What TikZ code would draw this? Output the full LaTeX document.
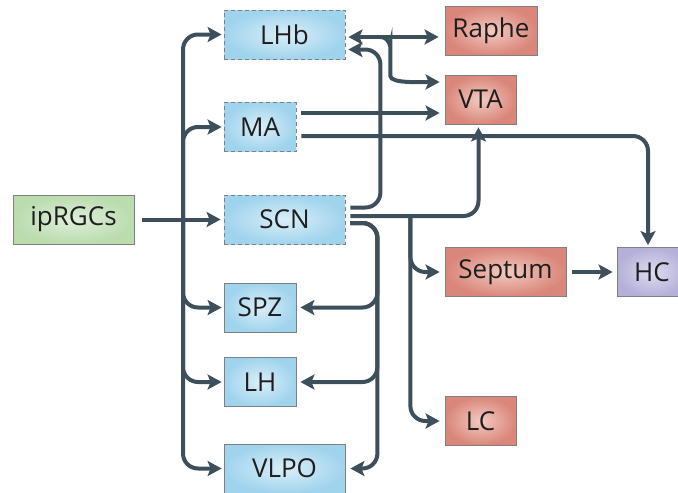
\documentclass[tikz,border=0pt]{standalone}
\usepackage{fontspec}
\setmainfont{Open Sans}
\usetikzlibrary{arrows.meta}

\definecolor{linecol}{RGB}{61,79,90}
\definecolor{edgecol}{RGB}{128,128,128}
\definecolor{textcol}{RGB}{30,30,30}
\definecolor{blueout}{RGB}{160,212,237}
\definecolor{bluein}{RGB}{218,238,248}
\definecolor{redout}{RGB}{218,134,122}
\definecolor{redin}{RGB}{242,202,192}
\definecolor{greenout}{RGB}{186,220,174}
\definecolor{greenin}{RGB}{224,239,218}
\definecolor{purpleout}{RGB}{181,176,216}
\definecolor{purplein}{RGB}{222,220,240}

\tikzset{
  box/.style = {draw = edgecol, line width = 0.8pt, minimum height = 49pt, inner sep = 0pt,
    text = textcol, font = \fontsize{26}{26}\selectfont},
  hubbox/.style = {box, inner color = bluein, outer color = blueout},
  dashbox/.style = {hubbox, dashed, dash pattern = on 4pt off 3pt},
  inputbox/.style = {box, inner color = greenin, outer color = greenout},
  targetbox/.style = {box, inner color = redin, outer color = redout},
  hcbox/.style = {box, inner color = purplein, outer color = purpleout},
  conn/.style = {draw = linecol, line width = 4pt, rounded corners = 15pt, ->, shorten > = 4pt}
}

\begin{document}
\begin{tikzpicture}[x = 1pt, y = -1pt, > = {Stealth[length = 14pt, width = 15pt, inset = 3pt]}]
\useasboundingbox (0, 0) rectangle (678, 493);

% boxes
\node [inputbox, minimum width = 121pt] (ipRGCs) at (73.5, 219.5) {ipRGCs};
\node [dashbox, minimum width = 121pt] (LHb) at (284.5, 34.5) {LHb};
\node [dashbox, minimum width = 72pt] (MA) at (260, 127) {MA};
\node [dashbox, minimum width = 121pt] (SCN) at (284.5, 219.5) {SCN};
\node [hubbox, minimum width = 72pt] (SPZ) at (260, 307.5) {SPZ};
\node [hubbox, minimum width = 72pt] (LH) at (260, 382) {LH};
\node [hubbox, minimum width = 121pt] (VLPO) at (284.5, 468.5) {VLPO};
\node [targetbox, minimum width = 92pt] (Raphe) at (491, 31) {Raphe};
\node [targetbox, minimum width = 71pt] (VTA) at (480.5, 99.5) {VTA};
\node [targetbox, minimum width = 121pt] (Septum) at (505.5, 272) {Septum};
\node [hcbox, minimum width = 70pt] (HC) at (652, 272) {HC};
\node [targetbox, minimum width = 71pt] (LC) at (480.5, 421) {LC};

% left trunk
\coordinate (trunk) at (183, 219.5);
\path [conn, shorten > = 2pt] (trunk) |- (LHb.west);
\path [conn, shorten > = 2pt] (trunk) |- (MA.west);
\path [conn, shorten > = 2pt] (trunk) |- (SPZ.west);
\path [conn, shorten > = 2pt] (trunk) |- (LH.west);
\path [conn, shorten > = 2pt] (trunk) |- (VLPO.west);
\path [conn, shorten < = 8pt, shorten > = 3pt] (ipRGCs.east) -- (SCN.west);

% habenula outputs
\coordinate (lhbout) at ([yshift = -2.5pt] LHb.east);
\coordinate (fork) at ([xshift = 35pt] lhbout);
\path [conn, <->, shorten < = 3pt, shorten > = 6pt] (lhbout) -- (lhbout -| Raphe.west);
\path [conn, shorten > = 5pt] (fork) to [out = 0, in = 90] ++(10, 24)
  to [out = -90, in = 180] ([yshift = 17.5pt] VTA.west);

% MA outputs
\coordinate (maup) at ([yshift = 14pt] MA.east);
\coordinate (malow) at ([yshift = -9pt] MA.east);
\path [conn, shorten < = 5pt, shorten > = 5pt] (maup) -- (maup -| VTA.west);
\path [conn, shorten < = 5pt, shorten > = 2pt] (malow) -| ([xshift = -4pt] HC.north);

% SCN outputs
\coordinate (scnhigh) at ([yshift = 12pt] SCN.east);
\coordinate (scnmid) at ([yshift = 3.5pt] SCN.east);
\coordinate (scnlow) at ([yshift = -3.5pt] SCN.east);
\coordinate (split) at ([xshift = 65pt] scnmid);
\coordinate (drop) at ([xshift = 32pt] scnlow);
\path [conn, shorten < = 5pt, shorten > = 3pt] (scnhigh) -- ++(35, 0) |- ([yshift = -15pt] LHb.east);
\path [conn, shorten < = 5pt, shorten > = 3pt] (scnmid) -| ([xshift = -2pt] VTA.south);
\path [conn, shorten > = 5pt] (split) |- (Septum.west);
\path [conn, shorten > = 5pt] (split) |- (LC.west);
\path [conn, shorten < = 5pt] (scnlow) -- (drop) |- (SPZ.east);
\path [conn, shorten < = 5pt] (scnlow) -- (drop) |- (LH.east);
\path [conn, shorten < = 5pt, shorten > = 5pt] (scnlow) -- (drop) |- (VLPO.east);

% septum to hippocampus
\path [conn, shorten < = 6pt] (Septum.east) -- (HC.west);
\end{tikzpicture}
\end{document}
